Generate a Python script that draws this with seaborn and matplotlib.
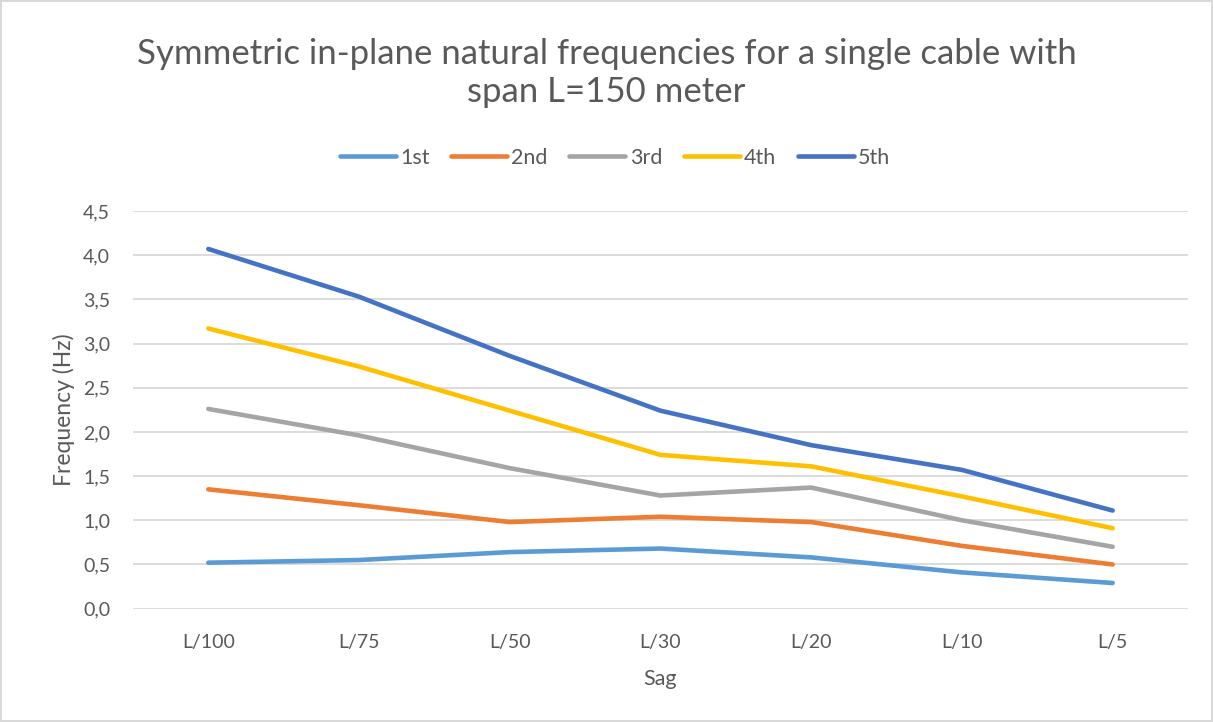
import matplotlib
matplotlib.use("Agg")
import matplotlib.pyplot as plt
import seaborn as sns
import pandas as pd
from matplotlib.ticker import FuncFormatter
from matplotlib.lines import Line2D

categories = ["L/100", "L/75", "L/50", "L/30", "L/20", "L/10", "L/5"]
first = [0.52, 0.55, 0.64, 0.68, 0.58, 0.41, 0.29]
second = [1.35, 1.17, 0.98, 1.04, 0.98, 0.71, 0.50]
third = [2.26, 1.96, 1.59, 1.28, 1.37, 1.00, 0.70]
fourth = [3.17, 2.74, 2.24, 1.74, 1.61, 1.27, 0.91]
fifth = [4.07, 3.53, 2.86, 2.24, 1.85, 1.57, 1.11]
series_names = ["1st", "2nd", "3rd", "4th", "5th"]
colors = ["#5B9BD5", "#ED7D31", "#A5A5A5", "#FFC000", "#4472C4"]

rows = []
for name, vals in zip(series_names, [first, second, third, fourth, fifth]):
    for i, (c, v) in enumerate(zip(categories, vals)):
        rows.append({"Sag": c, "idx": i, "Frequency": v, "Mode": name})
df = pd.DataFrame(rows)

sns.set_theme(style="white")
plt.rcParams['font.family'] = ['Lato', 'DejaVu Sans']

fig = plt.figure(figsize=(12.13, 7.22), dpi=100)
fig.patch.set_edgecolor("#D9D9D9")
fig.patch.set_linewidth(1.5)
ax = fig.add_axes([0.1096, 0.157, 0.8698, 0.5508])

sns.lineplot(data=df, x="idx", y="Frequency", hue="Mode", hue_order=series_names,
             palette=colors, linewidth=3.3, ax=ax, legend=False)
for ln in ax.get_lines():
    ln.set_solid_capstyle("round")

ax.set_xlim(-0.5, len(categories) - 0.5)
ax.set_ylim(0, 4.5)
ax.set_yticks([i * 0.5 for i in range(10)])
ax.yaxis.set_major_formatter(FuncFormatter(lambda v, p: f"{v:.1f}".replace(".", ",")))
ax.set_xticks(range(len(categories)))
ax.set_xticklabels(categories)
ax.grid(axis="y", color="#D9D9D9", linewidth=1.3)
ax.set_axisbelow(True)
for s in ax.spines.values():
    s.set_visible(False)
ax.tick_params(axis="both", length=0, labelsize=14, colors="#595959")
ax.tick_params(axis="x", pad=18)
ax.tick_params(axis="y", pad=16.5)
ax.set_xlabel("Sag", fontsize=15.5, color="#595959", labelpad=13)
ax.set_ylabel("Frequency (Hz)", fontsize=16.5, color="#595959", labelpad=6)

handles = [Line2D([0], [0], color=c, linewidth=3.3, solid_capstyle="round") for c in colors]
fig.legend(handles, series_names, loc="center", bbox_to_anchor=(0.507, 1 - 158 / 722),
           ncol=5, frameon=False, fontsize=15.5, handlelength=2.6, handletextpad=0.2,
           columnspacing=1.0, labelcolor="#595959")

fig.text(0.5, 1 - 73 / 722,
         "Symmetric in-plane natural frequencies for a single cable with\nspan L=150 meter",
         ha="center", va="center", fontsize=25, color="#595959", linespacing=1.2)

fig.savefig("out.png", dpi=100)
